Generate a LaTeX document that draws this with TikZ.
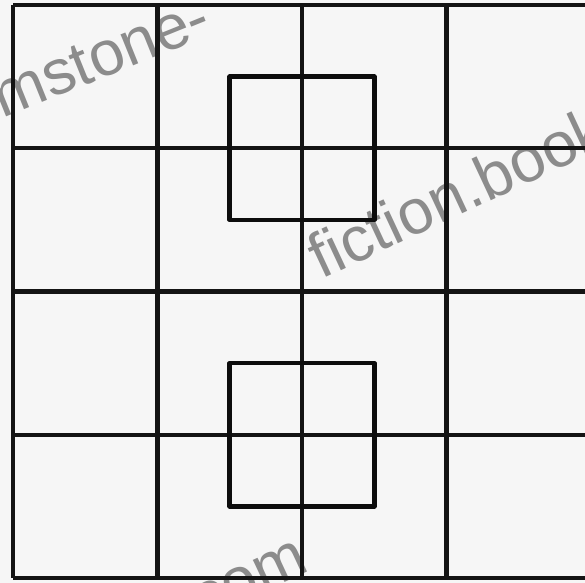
\documentclass[tikz,border=0pt]{standalone}
\usepackage{fontspec}
\newfontfamily\vizfont{Liberation Sans}
\usepackage{tikz}
\usetikzlibrary{calc}
\definecolor{hatter}{RGB}{246,246,246}
\definecolor{szurke}{RGB}{140,140,140}
\tikzset{
  vonal/.style={line width=1.2pt,draw=black!92,line join=round},
  doboz/.style={line width=1.3pt,draw=black!95,line join=round},
  vizjel/.style={text=szurke,font=\vizfont\fontsize{18}{18}\selectfont,inner sep=0pt},
}
\begin{document}
\begin{tikzpicture}
  \useasboundingbox (0,0) rectangle (5.85,5.83);
  \clip (0,0) rectangle (5.85,5.83);
  \fill[hatter] (0,0) rectangle (5.85,5.83);
  % halvany vizjel
  \node[vizjel,anchor=base west,rotate=22] (wm1) at (0.02,4.64) {mstone-};
  \node[vizjel,anchor=base west,rotate=25] (wm2) at (3.21,3.03) {fiction.book};
  \node[vizjel,anchor=base east,rotate=25] (wm3) at (3.12,0.13) {.com};
  \begin{scope}[shift={(0.13,0.05)},x=1.445cm,y=1.4325cm]
    \foreach \i in {0,...,4} \draw[vonal] (0,\i) -- (4,\i);
    \foreach \j in {0,...,4} \draw[vonal] (\j,0) -- (\j,4);
    \draw[doboz] (1.5,2.5) rectangle (2.5,3.5);
    \draw[doboz] (1.5,0.5) rectangle (2.5,1.5);
  \end{scope}
\end{tikzpicture}
\end{document}
